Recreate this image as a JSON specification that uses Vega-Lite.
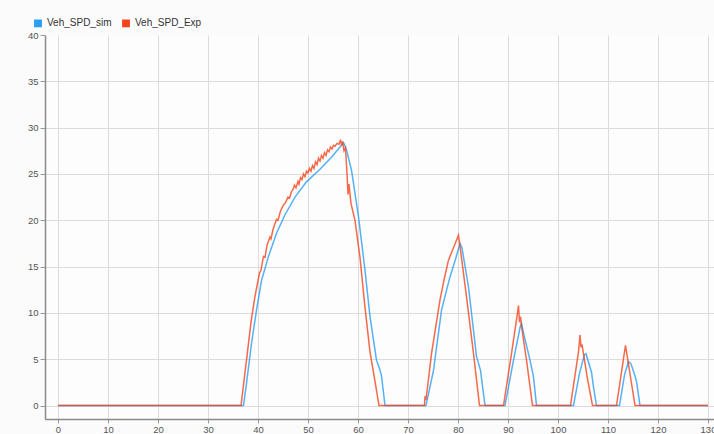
{
  "$schema": "https://vega.github.io/schema/vega-lite/v6.json",
  "autosize": "none",
  "padding": {"left": 45, "top": 35, "right": 0, "bottom": 15},
  "width": 673,
  "height": 384,
  "background": "#fbfbfb",
  "config": {
    "view": {"stroke": null, "fill": "#fdfdfd"},
    "font": "Liberation Sans"
  },
  "datasets": {
    "sim": [
      {"t": 0, "v": 0}, {"t": 37.1, "v": 0}, {"t": 37.7, "v": 2.4}, {"t": 38.7, "v": 6.7}, {"t": 39.7, "v": 10.3},
      {"t": 40.7, "v": 13.5}, {"t": 42.1, "v": 16.1}, {"t": 43.7, "v": 18.6}, {"t": 45.4, "v": 20.6}, {"t": 47.4, "v": 22.5},
      {"t": 49.7, "v": 24.15}, {"t": 52.4, "v": 25.5}, {"t": 54.7, "v": 26.8}, {"t": 56.7, "v": 28.1}, {"t": 57.1, "v": 28.4},
      {"t": 57.7, "v": 27.6}, {"t": 58.7, "v": 25.4}, {"t": 60.1, "v": 20.4}, {"t": 61.4, "v": 14.6}, {"t": 62.4, "v": 9.6},
      {"t": 63.7, "v": 4.9}, {"t": 64.3, "v": 4.0}, {"t": 64.7, "v": 3.2}, {"t": 65.4, "v": 0},
      {"t": 73.6, "v": 0}, {"t": 75.1, "v": 3.8}, {"t": 76.7, "v": 10.3}, {"t": 78.3, "v": 13.7}, {"t": 79.5, "v": 15.8},
      {"t": 80.4, "v": 17.5}, {"t": 80.8, "v": 17.0}, {"t": 82.1, "v": 12.8}, {"t": 83.7, "v": 5.3}, {"t": 84.5, "v": 3.8}, {"t": 85.4, "v": 0},
      {"t": 89.4, "v": 0}, {"t": 91.1, "v": 4.9}, {"t": 92.4, "v": 8.4}, {"t": 92.7, "v": 8.9}, {"t": 93.2, "v": 7.6},
      {"t": 94.4, "v": 4.9}, {"t": 95.1, "v": 3.1}, {"t": 95.7, "v": 0},
      {"t": 103.1, "v": 0}, {"t": 104.3, "v": 3.5}, {"t": 105.3, "v": 5.5}, {"t": 105.6, "v": 5.6}, {"t": 106.7, "v": 3.6},
      {"t": 107.1, "v": 2.0}, {"t": 107.7, "v": 0},
      {"t": 112.3, "v": 0}, {"t": 113.3, "v": 3.3}, {"t": 114.1, "v": 4.75}, {"t": 114.6, "v": 4.5}, {"t": 115.4, "v": 3.2},
      {"t": 115.7, "v": 2.6}, {"t": 116.4, "v": 0}, {"t": 130, "v": 0}
    ],
    "exp": [
      {"t": 0, "v": 0}, {"t": 36.6, "v": 0}, {"t": 37.7, "v": 4.9}, {"t": 38.6, "v": 9.0}, {"t": 39.4, "v": 11.8},
      {"t": 40.3, "v": 14.3}, {"t": 40.6, "v": 14.6}, {"t": 41.1, "v": 16.1}, {"t": 41.4, "v": 16.0}, {"t": 41.8, "v": 17.3},
      {"t": 42.4, "v": 18.2}, {"t": 42.6, "v": 18.0}, {"t": 43.0, "v": 19.0}, {"t": 43.7, "v": 20.1}, {"t": 44.0, "v": 20.0},
      {"t": 44.5, "v": 21.0}, {"t": 45.1, "v": 21.65}, {"t": 45.5, "v": 21.9}, {"t": 46.0, "v": 22.5}, {"t": 46.3, "v": 22.4},
      {"t": 46.7, "v": 23.1}, {"t": 47.0, "v": 23.3}, {"t": 47.3, "v": 23.8}, {"t": 47.6, "v": 23.5}, {"t": 48.0, "v": 24.2},
      {"t": 48.2, "v": 23.9}, {"t": 48.5, "v": 24.6}, {"t": 48.8, "v": 24.4}, {"t": 49.1, "v": 25.0}, {"t": 49.4, "v": 24.7},
      {"t": 49.7, "v": 25.3}, {"t": 50.0, "v": 25.1}, {"t": 50.3, "v": 25.6}, {"t": 50.6, "v": 25.3}, {"t": 50.9, "v": 25.9},
      {"t": 51.2, "v": 25.6}, {"t": 51.5, "v": 26.3}, {"t": 51.8, "v": 26.0}, {"t": 52.1, "v": 26.7}, {"t": 52.4, "v": 26.4},
      {"t": 52.7, "v": 27.0}, {"t": 53.0, "v": 26.7}, {"t": 53.3, "v": 27.3}, {"t": 53.6, "v": 27.0}, {"t": 53.9, "v": 27.6},
      {"t": 54.2, "v": 27.4}, {"t": 54.5, "v": 27.9}, {"t": 54.8, "v": 27.7}, {"t": 55.1, "v": 28.1}, {"t": 55.4, "v": 28.0},
      {"t": 55.8, "v": 28.3}, {"t": 56.2, "v": 28.2}, {"t": 56.5, "v": 28.7}, {"t": 56.7, "v": 28.1}, {"t": 56.9, "v": 28.5},
      {"t": 57.2, "v": 27.5}, {"t": 57.5, "v": 27.8}, {"t": 57.8, "v": 25.0}, {"t": 58.0, "v": 22.8}, {"t": 58.2, "v": 23.9},
      {"t": 58.6, "v": 21.8}, {"t": 59.4, "v": 20.0}, {"t": 60.4, "v": 16.0}, {"t": 61.4, "v": 10.6}, {"t": 62.4, "v": 5.8},
      {"t": 63.4, "v": 2.6}, {"t": 64.2, "v": 0},
      {"t": 73.3, "v": 0}, {"t": 73.4, "v": 1.0}, {"t": 73.6, "v": 0.6}, {"t": 74.7, "v": 5.6}, {"t": 76.4, "v": 11.4},
      {"t": 77.3, "v": 13.8}, {"t": 78.1, "v": 15.7}, {"t": 79.0, "v": 16.9}, {"t": 80.1, "v": 18.4}, {"t": 80.4, "v": 17.2},
      {"t": 81.7, "v": 11.75}, {"t": 83.1, "v": 5.6}, {"t": 84.3, "v": 0},
      {"t": 89.1, "v": 0}, {"t": 90.7, "v": 5.6}, {"t": 91.9, "v": 10.0}, {"t": 92.1, "v": 10.8}, {"t": 92.3, "v": 9.0},
      {"t": 92.5, "v": 9.6}, {"t": 92.7, "v": 8.6}, {"t": 93.7, "v": 4.9}, {"t": 94.9, "v": 0},
      {"t": 102.5, "v": 0}, {"t": 104.1, "v": 5.8}, {"t": 104.4, "v": 7.6}, {"t": 104.6, "v": 6.3}, {"t": 104.8, "v": 6.6},
      {"t": 105.8, "v": 3.2}, {"t": 106.9, "v": 0},
      {"t": 111.7, "v": 0}, {"t": 113.5, "v": 6.5}, {"t": 115.4, "v": 0}, {"t": 130, "v": 0}
    ]
  },
  "encoding": {
    "x": {
      "field": "t", "type": "quantitative",
      "scale": {"domain": [-2.6, 132], "nice": false, "zero": false},
      "axis": {
        "title": null, "values": [0, 10, 20, 30, 40, 50, 60, 70, 80, 90, 100, 110, 120, 130],
        "grid": true, "gridColor": "#dcdcdc", "gridWidth": 1,
        "domainColor": "#8a8a8a", "domainWidth": 1.5,
        "tickColor": "#9a9a9a", "tickSize": 4,
        "labelColor": "#555555", "labelFontSize": 9.5, "labelPadding": 1, "labelFlush": false
      }
    },
    "y": {
      "field": "v", "type": "quantitative",
      "scale": {"domain": [-1.45, 40], "nice": false, "zero": false},
      "axis": {
        "title": null, "values": [0, 5, 10, 15, 20, 25, 30, 35, 40],
        "grid": true,
        "gridColor": {"condition": {"test": "datum.value == 40", "value": "transparent"}, "value": "#dcdcdc"},
        "gridWidth": 1,
        "domainColor": "#8a8a8a", "domainWidth": 1.5,
        "tickColor": "#9a9a9a", "tickSize": 5,
        "labelColor": "#555555", "labelFontSize": 9.5, "labelPadding": 2, "labelFlush": false
      }
    },
    "color": {
      "field": "s", "type": "nominal",
      "scale": {"domain": ["Veh_SPD_sim", "Veh_SPD_Exp"], "range": ["#2a9df4", "#f4441c"]},
      "legend": {
        "title": null, "orient": "none", "legendX": -12, "legendY": -17, "direction": "horizontal",
        "symbolType": "square", "symbolSize": 40, "symbolOpacity": 1,
        "labelFont": "Liberation Sans", "labelFontSize": 10, "labelColor": "#333333",
        "labelOffset": 4, "columnPadding": 7, "padding": 0,
        "encode": {
          "symbols": {
            "update": {
              "fill": {"scale": "color", "field": "value"},
              "stroke": {"value": "transparent"},
              "opacity": {"value": 1}
            }
          }
        }
      }
    }
  },
  "layer": [
    {
      "data": {"name": "sim"},
      "transform": [{"calculate": "'Veh_SPD_sim'", "as": "s"}],
      "mark": {"type": "line", "strokeWidth": 1.5, "opacity": 0.8}
    },
    {
      "data": {"name": "exp"},
      "transform": [{"calculate": "'Veh_SPD_Exp'", "as": "s"}],
      "mark": {"type": "line", "strokeWidth": 1.5, "opacity": 0.8}
    }
  ]
}
